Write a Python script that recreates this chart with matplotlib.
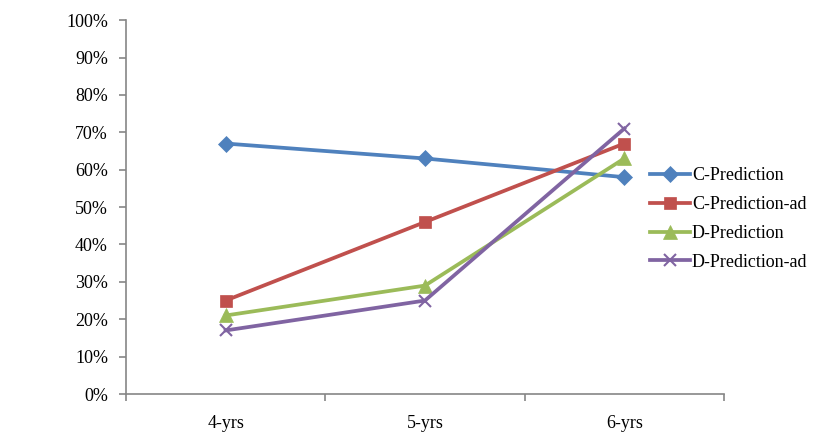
import matplotlib.pyplot as plt
from matplotlib.ticker import PercentFormatter

plt.rcParams['font.family'] = ['Liberation Serif', 'DejaVu Serif']

categories = ['4-yrs', '5-yrs', '6-yrs']
c_pred = [67, 63, 58]
c_pred_ad = [25, 46, 67]
d_pred = [21, 29, 63]
d_pred_ad = [17, 25, 71]

series = [
    ('C-Prediction', c_pred, '#4F81BD', 'D', 8),
    ('C-Prediction-ad', c_pred_ad, '#C0504D', 's', 9),
    ('D-Prediction', d_pred, '#9BBB59', '^', 9.5),
    ('D-Prediction-ad', d_pred_ad, '#8064A2', 'x', 9),
]

fig = plt.figure(figsize=(8.18, 4.44), dpi=100)
ax = fig.add_axes([0.154, 0.1126, 0.731, 0.842])

x = range(len(categories))
for name, vals, color, marker, ms in series:
    ax.plot(x, vals, color=color, lw=2.7, marker=marker, markersize=ms,
            markeredgewidth=1.5 if marker == 'x' else 0.5, markeredgecolor=color,
            label=name)

ax.set_xlim(-0.5, 2.5)
ax.set_ylim(0, 100)
ax.set_yticks(range(0, 101, 10))
ax.yaxis.set_major_formatter(PercentFormatter(decimals=0))
ax.set_xticks(list(x))
ax.set_xticklabels(categories)
# category boundary ticks, Excel style
ax.set_xticks([-0.5, 0.5, 1.5, 2.5], minor=True)

for s in ['top', 'right']:
    ax.spines[s].set_visible(False)
for s in ['left', 'bottom']:
    ax.spines[s].set_color('#868686')
    ax.spines[s].set_linewidth(1.2)

ax.tick_params(axis='y', length=5, color='#868686', width=1.2, labelsize=13, pad=8)
ax.tick_params(axis='x', which='major', length=0, labelsize=13, pad=15)
ax.tick_params(axis='x', which='minor', length=5, color='#868686', width=1.2)

ax.legend(loc='center left', bbox_to_anchor=(0.85, 0.468), frameon=False,
          fontsize=13, handlelength=2.2, handletextpad=0.1, labelspacing=0.65)

fig.savefig('out.png', dpi=100)
